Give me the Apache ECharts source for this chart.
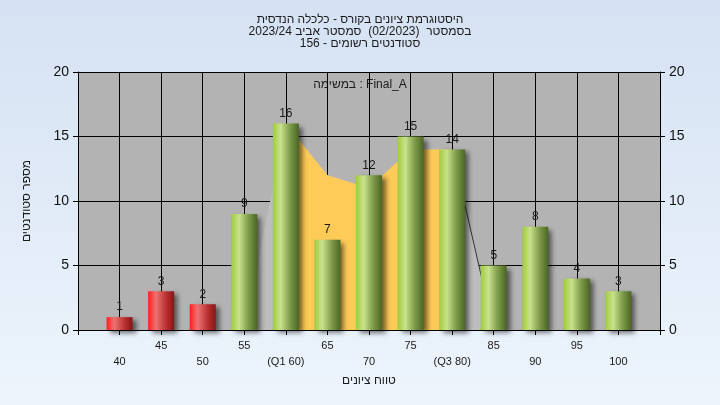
<!DOCTYPE html>
<html>
<head>
<meta charset="utf-8">
<script src="https://cdn.jsdelivr.net/npm/echarts@6/dist/echarts.min.js"></script>
<style>html,body{margin:0;padding:0;}#c{width:720px;height:405px;}</style>
</head>
<body>
<div id="c"></div>
<script>
// ---- data ----
const categories = [40, 45, 50, 55, 60, 65, 70, 75, 80, 85, 90, 95, 100];
const tickLabels = ['40', '45', '50', '55', '(Q1 60)', '65', '70', '75', '(Q3 80)', '85', '90', '95', '100'];
const counts = [1, 3, 2, 9, 16, 7, 12, 15, 14, 5, 8, 4, 3];
const barStatus = ['fail', 'fail', 'fail', 'pass', 'pass', 'pass', 'pass', 'pass', 'pass', 'pass', 'pass', 'pass', 'pass'];
const areaX = [55, 60, 65, 70, 75, 80, 85];
const areaValues = [0, 16, 12, 11, 14, 14, 0];
const quartileRange = [60, 80];
const titleLines = [
  'היסטוגרמת ציונים בקורס - כלכלה הנדסית',
  'בסמסטר  (02/2023)  סמסטר אביב 2023/24',
  'סטודנטים רשומים - 156'
];
const taskLabel = 'במשימה : Final_A';
const yAxisName = 'מספר סטודנטים';
const xAxisName = 'טווח ציונים';

const FONT = '"Liberation Sans", "DejaVu Sans", Arial, sans-serif';
const G = echarts.graphic.LinearGradient;
const greenGrad = new G(0, 0, 1, 0, [
  {offset: 0, color: '#9fcb3e'},
  {offset: 0.3, color: '#c9e28c'},
  {offset: 0.65, color: '#7f9d4a'},
  {offset: 1, color: '#4a6624'}
]);
const redGrad = new G(0, 0, 1, 0, [
  {offset: 0, color: '#ff1e1e'},
  {offset: 0.3, color: '#ee7272'},
  {offset: 0.7, color: '#b83030'},
  {offset: 1, color: '#861515'}
]);

const barData = categories.map((c, i) => ({
  value: [c, counts[i]],
  itemStyle: {color: barStatus[i] === 'fail' ? redGrad : greenGrad}
}));
const grayArea = areaX.map((x, i) => [x, areaValues[i]]);
const yellowArea = areaX.map((x, i) => [x, areaValues[i]])
  .filter(p => p[0] >= quartileRange[0] && p[0] <= quartileRange[1]);
const edgeLine = grayArea.filter(p => p[0] >= quartileRange[1]);

const chart = echarts.init(document.getElementById('c'), null, {renderer: 'canvas'});
chart.setOption({
  animation: false,
  backgroundColor: new G(0, 0, 0, 1, [
    {offset: 0, color: '#d5e2f3'},
    {offset: 1, color: '#edf4fc'}
  ]),
  textStyle: {fontFamily: FONT},
  title: {
    text: titleLines.join('\n'),
    left: 'center',
    top: 9,
    textStyle: {fontSize: 12, fontWeight: 'normal', color: '#1a1a1a', lineHeight: 12, fontFamily: FONT}
  },
  grid: {
    left: 78, right: 60, top: 72, bottom: 75,
    show: true, backgroundColor: '#b3b3b3', borderWidth: 0
  },
  graphic: [{
    type: 'text',
    left: 'center',
    top: 79,
    style: {text: taskLabel, font: '12px ' + FONT, fill: '#1a1a1a'}
  }],
  xAxis: {
    type: 'value',
    min: 35, max: 105, interval: 5,
    name: xAxisName,
    nameLocation: 'middle',
    nameGap: 45,
    nameTextStyle: {fontSize: 12, color: '#1a1a1a'},
    axisLine: {lineStyle: {color: '#000', width: 1}},
    axisTick: {length: 5, lineStyle: {color: '#000'}},
    splitLine: {show: true, lineStyle: {color: '#000', width: 1}},
    axisLabel: {
      fontSize: 11, color: '#1a1a1a', margin: 8, lineHeight: 16,
      formatter: v => {
        const i = categories.indexOf(v);
        if (i < 0) return '';
        return i % 2 === 1 ? tickLabels[i] : '\n' + tickLabels[i];
      }
    }
  },
  yAxis: [{
    type: 'value', min: 0, max: 20, interval: 5, position: 'left',
    name: yAxisName,
    nameLocation: 'middle', nameGap: 45,
    nameTextStyle: {fontSize: 12, color: '#1a1a1a'},
    axisLine: {show: true, lineStyle: {color: '#000'}},
    axisTick: {show: true, length: 5, lineStyle: {color: '#000'}},
    splitLine: {show: true, lineStyle: {color: '#000', width: 1}},
    axisLabel: {fontSize: 14, color: '#111', margin: 9}
  }, {
    type: 'value', min: 0, max: 20, interval: 5, position: 'right',
    axisLine: {show: true, lineStyle: {color: '#000'}},
    axisTick: {show: true, length: 5, lineStyle: {color: '#000'}},
    splitLine: {show: false},
    axisLabel: {fontSize: 14, color: '#111', margin: 9}
  }],
  series: [{
    type: 'line', data: grayArea, symbol: 'none', z: 1,
    lineStyle: {width: 0},
    areaStyle: {color: '#bdbdbd', opacity: 1}
  }, {
    type: 'line', data: yellowArea, symbol: 'none', z: 2,
    lineStyle: {width: 0},
    areaStyle: {color: '#ffcb58', opacity: 1}
  }, {
    type: 'line', data: edgeLine, symbol: 'none', z: 3,
    lineStyle: {width: 1, color: '#333'}
  }, {
    type: 'bar', data: barData, barWidth: 26, z: 5,
    itemStyle: {
      shadowColor: 'rgba(0,0,0,0.55)', shadowBlur: 5,
      shadowOffsetX: 4, shadowOffsetY: 3
    },
    label: {
      show: true, position: 'top', distance: 4,
      fontSize: 12, color: '#1a1a1a',
      formatter: p => p.value[1]
    }
  }]
});
</script>
</body>
</html>
